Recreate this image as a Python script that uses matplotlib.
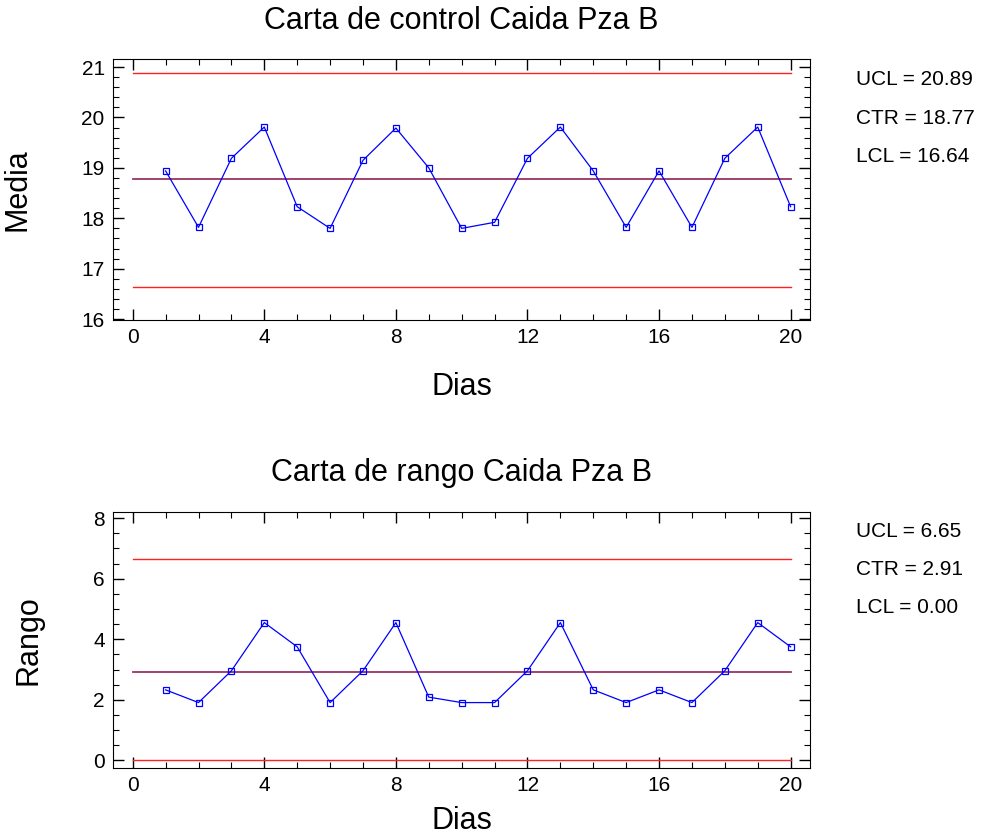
import numpy as np
import matplotlib.pyplot as plt
from matplotlib.ticker import MultipleLocator

plt.rcParams['font.family'] = ['Liberation Sans', 'DejaVu Sans']

#---Data---
dias = np.arange(1, 21)
media = [18.94, 17.82, 19.19, 19.81, 18.23, 17.80, 19.15, 19.79, 19.00, 17.80,
         17.92, 19.19, 19.81, 18.94, 17.82, 18.94, 17.82, 19.19, 19.81, 18.23]
rango = [2.33, 1.91, 2.96, 4.55, 3.75, 1.91, 2.96, 4.55, 2.09, 1.91,
         1.91, 2.96, 4.55, 2.33, 1.91, 2.33, 1.91, 2.96, 4.55, 3.75]
lim_media = {'UCL': 20.89, 'CTR': 18.77, 'LCL': 16.64}
lim_rango = {'UCL': 6.65, 'CTR': 2.91, 'LCL': 0.00}

fig = plt.figure(figsize=(9.85, 8.38), dpi=100)
ax1 = fig.add_axes([0.1147, 0.618, 0.708, 0.311])
ax2 = fig.add_axes([0.1147, 0.0835, 0.708, 0.3055])


def carta(ax, y, lim, title, ylabel, ylim, major, minor, xlab_y, ylab_x):
    ax.plot([0, 20], [lim['UCL']] * 2, color='#ff2020', linewidth=1)
    ax.plot([0, 20], [lim['LCL']] * 2, color='#ff2020', linewidth=1)
    ax.plot([0, 20], [lim['CTR']] * 2, color='#993366', linewidth=1.3)
    ax.plot(dias, y, color='#0000ff', linewidth=0.9, marker='s', markersize=5,
            markerfacecolor='none', markeredgecolor='#0000ff', markeredgewidth=0.9)
    ax.set_xlim(-0.6, 20.6)
    ax.set_ylim(*ylim)
    ax.xaxis.set_major_locator(MultipleLocator(4))
    ax.xaxis.set_minor_locator(MultipleLocator(1))
    ax.yaxis.set_major_locator(MultipleLocator(major))
    ax.yaxis.set_minor_locator(MultipleLocator(minor))
    ax.tick_params(which='both', direction='in', top=True, right=True, labelsize=15)
    ax.tick_params(which='major', length=8, width=1, pad=6)
    ax.tick_params(which='minor', length=4, width=0.8)
    ax.set_title(title, fontsize=22, pad=22)
    ax.set_xlabel('Dias', fontsize=22)
    ax.set_ylabel(ylabel, fontsize=22)
    ax.xaxis.set_label_coords(0.5, xlab_y)
    ax.yaxis.set_label_coords(ylab_x, 0.5)
    for i, k in enumerate(['UCL', 'CTR', 'LCL']):
        ax.text(1.065, 0.922 - i * 0.148, '%s = %.2f' % (k, lim[k]), fontsize=15,
                transform=ax.transAxes, va='center', ha='left')


carta(ax1, media, lim_media, 'Carta de control Caida Pza B', 'Media',
      (15.98, 21.15), 1, 0.2, -0.2, -0.115)
carta(ax2, rango, lim_rango, 'Carta de rango Caida Pza B', 'Rango',
      (-0.25, 8.2), 2, 0.5, -0.15, -0.1)

fig.savefig('out.png', dpi=100)
